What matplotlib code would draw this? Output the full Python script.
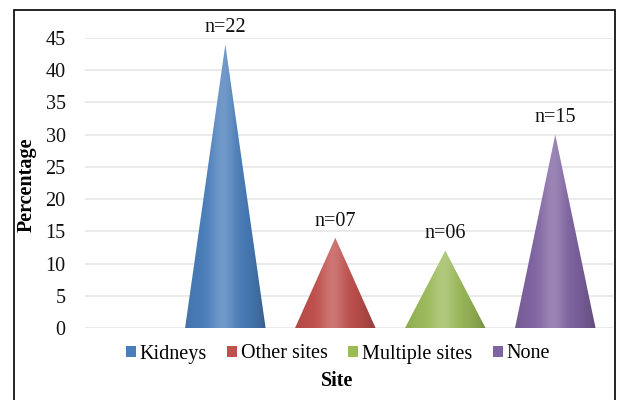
import matplotlib
matplotlib.use("Agg")
import matplotlib.pyplot as plt
import numpy as np
from matplotlib.patches import Polygon, Rectangle
from matplotlib.colors import to_rgb

categories = ["Kidneys", "Other sites", "Multiple sites", "None"]
values = [44, 14, 12, 30]
counts = ["n=22", "n=07", "n=06", "n=15"]
colors = ["#4A7EBB", "#C0504D", "#9BBB59", "#8064A2"]
yticks = [0, 5, 10, 15, 20, 25, 30, 35, 40, 45]

plt.rcParams['font.family'] = ['Liberation Serif', 'DejaVu Serif']

FS = 14.5
fig = plt.figure(figsize=(6.19, 4.0), dpi=100)
ax = fig.add_axes([85/619, 1-328/400, (613-85)/619, (328-38)/400])

positions = np.arange(1, len(categories) + 1)
half_w = 0.366

def gradient_img(color, n=200):
    base = np.array(to_rgb(color))
    t = np.linspace(0, 1, n)
    hi = 0.22 * np.exp(-((t - 0.47) / 0.15) ** 2)
    shade = 0.25 * t ** 5 + 0.10 * (1 - t) ** 8
    rgb = base[None, :] * (1 - hi[:, None]) + hi[:, None]
    rgb = rgb * (1 - shade[:, None])
    return np.clip(rgb[None, :, :], 0, 1)

for x, v, c, lab, cnt in zip(positions, values, colors, categories, counts):
    poly = Polygon([(x - half_w, 0), (x, v), (x + half_w, 0)], closed=True,
                   facecolor='none', edgecolor='none')
    ax.add_patch(poly)
    im = ax.imshow(gradient_img(c), extent=[x - half_w, x + half_w, 0, v],
                   aspect='auto', zorder=3, interpolation='bilinear')
    im.set_clip_path(poly)
    ax.text(x, v + 2.6, cnt, ha='center', va='center', fontsize=FS, color='#111111',
            clip_on=False)

for lab, c in zip(categories, colors):
    ax.bar([0], [0], color=c, label=lab)

ax.set_xlim(1 - 141/110.5, 4 + 58/110.5)
ax.set_ylim(0, 45)
ax.set_yticks(yticks)
ax.set_xticks([])
ax.tick_params(axis='y', length=0, pad=14, labelsize=FS, labelcolor='#111111')
for s in ax.spines.values():
    s.set_visible(False)
ax.yaxis.grid(True, color='#E8E8E8', linewidth=1.3)
ax.set_axisbelow(True)

ax.set_ylabel("Percentage", fontsize=FS, fontweight='bold')
ax.yaxis.set_label_coords((37-85)/(613-85), (328-185)/(328-38))
fig.text(337/619, 1-381/400, "Site", ha='center', va='center', fontsize=FS, fontweight='bold')

leg = fig.legend(loc='center', bbox_to_anchor=(338/619, 1-354/400), ncol=4, frameon=False,
                 fontsize=FS, handlelength=0.5, handleheight=0.5, handletextpad=0.2,
                 columnspacing=1.0)

fig.patches.append(Rectangle((14/619, -0.05), (615-14)/619, (1-10/400)+0.05,
                             transform=fig.transFigure, fill=False, edgecolor='black',
                             linewidth=1.2))

fig.savefig("out.png", dpi=100)
